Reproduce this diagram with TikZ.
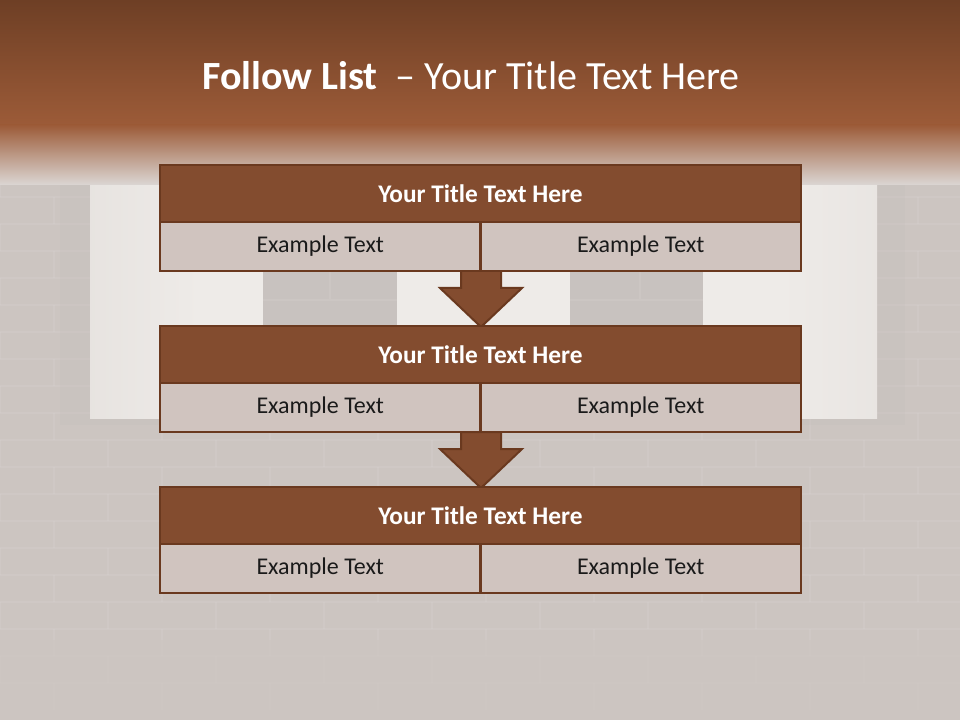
\documentclass[tikz,border=0pt]{standalone}
\usepackage{fontspec}
\setmainfont{Carlito}
\usetikzlibrary{calc}
\definecolor{bandtop}{HTML}{6E3F25}
\definecolor{bandmid}{HTML}{9C5B38}
\definecolor{wallbg}{HTML}{CCC5C1}
\definecolor{winlight}{HTML}{EEEBE8}
\definecolor{pane}{HTML}{C8C2BF}
\definecolor{brickline}{HTML}{D8D2CF}
\definecolor{hdrfill}{HTML}{834C2F}
\definecolor{hdrline}{HTML}{6A391F}
\definecolor{rowfill}{HTML}{D0C4BF}
\definecolor{rowtext}{HTML}{1A1A1A}
\tikzset{
  hdrbox/.style={draw=hdrline, line width=2pt, fill=hdrfill, minimum width=480.75pt, minimum height=42.75pt, inner sep=0pt, outer sep=0pt, text=white, font=\fontsize{19}{22}\selectfont\bfseries},
  rowbox/.style={draw=hdrline, line width=2pt, fill=rowfill, minimum width=240.375pt, minimum height=36.75pt, inner sep=0pt, outer sep=0pt, text=rowtext, font=\fontsize{18}{21}\selectfont},
  downarrow/.style={draw=hdrline, line width=1.5pt, fill=hdrfill, line join=miter},
  bricks/.style={draw=brickline, line width=1pt, opacity=0.3}
}
\begin{document}
\begin{tikzpicture}[x=0.75pt, y=-0.75pt]
\useasboundingbox (0,0) rectangle (960,720);
% background
\fill[wallbg] (0,0) rectangle (960,720);
% faint bricks
\foreach \r in {0,...,19} {
  \pgfmathsetmacro{\yy}{170+\r*27}
  \draw[bricks] (0,\yy) -- (960,\yy);
  \pgfmathsetmacro{\off}{mod(\r,2)*54}
  \foreach \c in {0,...,9} {
    \pgfmathsetmacro{\xx}{\off+\c*108}
    \draw[bricks] (\xx,\yy) -- (\xx,\yy+27);
  }
}
\shade[top color=wallbg, bottom color=wallbg, middle color=wallbg, opacity=0.6] (0,640) rectangle (960,720);
% window
\fill[pane!95!black, opacity=0.15] (60,180) rectangle (905,425);
\shade[left color=winlight!80!wallbg, right color=winlight] (90,183) rectangle (200,418);
\fill[winlight] (200,183) rectangle (780,418);
\shade[left color=winlight, right color=winlight!85!wallbg] (780,183) rectangle (877,418);
\fill[pane] (263,268) rectangle (397,330);
\fill[pane] (570,268) rectangle (703,330);
\draw[bricks] (263,300) -- (397,300) (570,300) -- (703,300) (330,268) -- (330,300) (640,268) -- (640,300);
% top band
\shade[top color=bandtop, bottom color=bandmid] (0,0) rectangle (960,125);
\shade[top color=bandmid, bottom color=wallbg!70!white] (0,125) rectangle (960,185);
\node[text=white, font=\fontsize{30}{34}\selectfont] (title) at (471,76) {\textbf{Follow List}\ \ -- Your Title Text Here};
% arrows
\coordinate (a1) at (481,271);
\coordinate (a2) at (481,432);
\draw[downarrow] ($(a1)+(-20,0)$) -- ($(a1)+(-20,17)$) -- ($(a1)+(-41,17)$) -- ($(a1)+(0,56)$) -- ($(a1)+(41,17)$) -- ($(a1)+(20,17)$) -- ($(a1)+(20,0)$) -- cycle;
\draw[downarrow] ($(a2)+(-20,0)$) -- ($(a2)+(-20,17)$) -- ($(a2)+(-41,17)$) -- ($(a2)+(0,56)$) -- ($(a2)+(41,17)$) -- ($(a2)+(20,17)$) -- ($(a2)+(20,0)$) -- cycle;
% boxes
\foreach \i/\y in {1/165,2/326,3/487} {
  \node[hdrbox, anchor=north] (t\i) at (480.5,\y) {Your Title Text Here};
  \node[rowbox, anchor=north east] (l\i) at (t\i.south) {Example Text};
  \node[rowbox, anchor=north west] (r\i) at (t\i.south) {Example Text};
}
\end{tikzpicture}
\end{document}
